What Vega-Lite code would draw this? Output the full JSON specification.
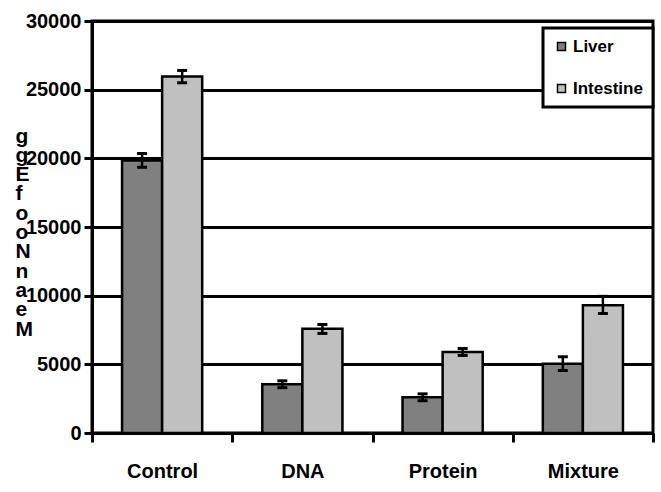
{
  "$schema": "https://vega.github.io/schema/vega-lite/v6.json",
  "width": 561,
  "height": 412,
  "autosize": {"type": "none"},
  "padding": {"left": 92, "top": 21, "right": 8, "bottom": 59},
  "background": "white",
  "config": {
    "font": "Liberation Sans",
    "view": {"stroke": "black", "strokeWidth": 3},
    "legend": {"strokeWidth": 3},
    "axis": {
      "labelFont": "Liberation Sans",
      "titleFont": "Liberation Sans",
      "labelFontWeight": "bold",
      "titleFontWeight": "bold",
      "labelColor": "black",
      "titleColor": "black",
      "domainColor": "black",
      "domainWidth": 3,
      "tickColor": "black",
      "tickWidth": 3,
      "gridColor": "black",
      "gridWidth": 3,
      "gridOpacity": 1
    }
  },
  "data": {
    "values": [
      {"Group": "Control", "Tissue": "Liver", "Mean": 19850, "lo": 19350, "hi": 20350},
      {"Group": "Control", "Tissue": "Intestine", "Mean": 25950, "lo": 25500, "hi": 26400},
      {"Group": "DNA", "Tissue": "Liver", "Mean": 3550, "lo": 3300, "hi": 3800},
      {"Group": "DNA", "Tissue": "Intestine", "Mean": 7600, "lo": 7250, "hi": 7900},
      {"Group": "Protein", "Tissue": "Liver", "Mean": 2600, "lo": 2350, "hi": 2850},
      {"Group": "Protein", "Tissue": "Intestine", "Mean": 5900, "lo": 5650, "hi": 6150},
      {"Group": "Mixture", "Tissue": "Liver", "Mean": 5050, "lo": 4550, "hi": 5550},
      {"Group": "Mixture", "Tissue": "Intestine", "Mean": 9300, "lo": 8700, "hi": 9950}
    ]
  },
  "encoding": {
    "x": {
      "field": "Group",
      "type": "nominal",
      "sort": ["Control", "DNA", "Protein", "Mixture"],
      "scale": {"paddingInner": 0, "paddingOuter": 0},
      "axis": {
        "title": null,
        "labelAngle": 0,
        "labelFontSize": 20,
        "tickBand": "extent",
        "tickSize": 9,
        "labelPadding": 19,
        "grid": false
      }
    },
    "xOffset": {
      "field": "Tissue",
      "type": "nominal",
      "sort": ["Liver", "Intestine"],
      "scale": {"paddingInner": 0, "paddingOuter": 0.75}
    }
  },
  "layer": [
    {
      "mark": {"type": "bar", "stroke": "black", "strokeWidth": 2.5},
      "encoding": {
        "y": {
          "field": "Mean",
          "type": "quantitative",
          "scale": {"domain": [0, 30000], "nice": false},
          "axis": {
            "values": [0, 5000, 10000, 15000, 20000, 25000, 30000],
            "format": "d",
            "grid": true,
            "labelFontSize": 20,
            "tickSize": 8,
            "labelPadding": 3,
            "title": ["g", "g", "E", "f", "o", "o", "N", "n", "a", "e", "M"],
            "titleAngle": 0,
            "titleAlign": "left",
            "titleBaseline": "top",
            "titleX": -77,
            "titleY": 104,
            "titleFontSize": 21,
            "titleLineHeight": 19.3
          }
        },
        "color": {
          "field": "Tissue",
          "type": "nominal",
          "sort": ["Liver", "Intestine"],
          "scale": {"domain": ["Liver", "Intestine"], "range": ["#808080", "#C0C0C0"]},
          "legend": {
            "title": null,
            "orient": "none",
            "legendX": 451,
            "legendY": 7,
            "direction": "vertical",
            "strokeColor": "black",
            "fillColor": "white",
            "padding": 10,
            "symbolType": "square",
            "symbolSize": 64,
            "symbolStrokeColor": "black",
            "symbolStrokeWidth": 1.5,
            "symbolOpacity": 1,
            "labelFont": "Liberation Sans",
            "labelFontWeight": "bold",
            "labelFontSize": 17,
            "labelColor": "black",
            "labelOffset": 3,
            "rowPadding": 24
          }
        }
      }
    },
    {
      "mark": {"type": "rule", "color": "black", "strokeWidth": 2.5},
      "encoding": {
        "y": {"field": "lo", "type": "quantitative"},
        "y2": {"field": "hi"}
      }
    },
    {
      "mark": {"type": "tick", "orient": "horizontal", "color": "black", "size": 10, "thickness": 3, "opacity": 1},
      "encoding": {
        "y": {"field": "lo", "type": "quantitative"}
      }
    },
    {
      "mark": {"type": "tick", "orient": "horizontal", "color": "black", "size": 10, "thickness": 3, "opacity": 1},
      "encoding": {
        "y": {"field": "hi", "type": "quantitative"}
      }
    }
  ]
}
